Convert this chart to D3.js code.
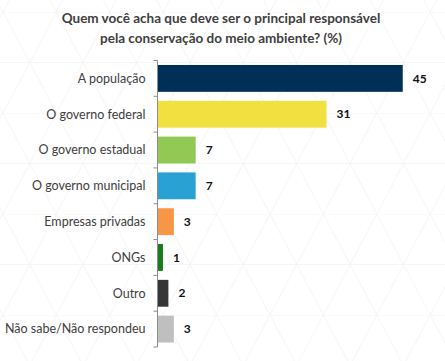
<!DOCTYPE html>
<html>
<head>
<meta charset="utf-8">
<script src="https://cdn.jsdelivr.net/npm/d3@7"></script>
<style>
  body { margin: 0; background: #fff; }
  svg { display: block; font-family: Lato, "Open Sans", sans-serif; }
</style>
</head>
<body>
<div chart></div>
<script>
const categories = [
  "A população",
  "O governo federal",
  "O governo estadual",
  "O governo municipal",
  "Empresas privadas",
  "ONGs",
  "Outro",
  "Não sabe/Não respondeu"
];
const values = [45, 31, 7, 7, 3, 1, 2, 3];
const colors = ["#003057", "#F0E040", "#92C854", "#2AA1D3", "#F79646", "#1B7A1B", "#363636", "#BFBFBF"];

const width = 445;
const height = 361;
const margin = { top: 60.5, right: 15, bottom: 14, left: 157.5 };

const svg = d3.select("[chart]")
  .append("svg")
  .attr("width", width)
  .attr("height", height);

// faint triangle background
const defs = svg.append("defs");
const pat = defs.append("pattern")
  .attr("id", "tri")
  .attr("patternUnits", "userSpaceOnUse")
  .attr("x", 3)
  .attr("y", 12)
  .attr("width", 53.4)
  .attr("height", 101);
pat.append("path")
  .attr("d", "M0,0H53.4M0,50.5H53.4M0,0L26.7,50.5L53.4,0M-26.7,50.5L0,101M26.7,50.5L0,101L-26.7,50.5M26.7,50.5L53.4,101L80.1,50.5M0,0L-26.7,50.5M53.4,0L80.1,50.5")
  .attr("stroke", "#f5f5f5")
  .attr("stroke-width", 1)
  .attr("fill", "none");
svg.append("rect")
  .attr("width", width)
  .attr("height", height)
  .attr("fill", "url(#tri)");

svg.append("text")
  .attr("x", 221)
  .attr("text-anchor", "middle")
  .attr("font-weight", "bold")
  .attr("font-size", 13.5)
  .attr("fill", "#404040")
  .selectAll("tspan")
  .data(["Quem você acha que deve ser o principal responsável", "pela conservação do meio ambiente? (%)"])
  .join("tspan")
  .attr("x", 221)
  .attr("y", (d, i) => 23 + i * 20)
  .text(d => d);

const x = d3.scaleLinear()
  .domain([0, 50])
  .range([margin.left, margin.left + 272.5]);

const y = d3.scaleBand()
  .domain(categories)
  .range([margin.top, height - margin.bottom])
  .paddingInner(0.25)
  .paddingOuter(0.125);

svg.selectAll(".bar")
  .data(values)
  .join("rect")
  .attr("class", "bar")
  .attr("x", x(0))
  .attr("y", (d, i) => y(categories[i]))
  .attr("width", d => x(d) - x(0))
  .attr("height", y.bandwidth())
  .attr("fill", (d, i) => colors[i]);

svg.selectAll(".val")
  .data(values)
  .join("text")
  .attr("class", "val")
  .attr("x", d => x(d) + 10)
  .attr("y", (d, i) => y(categories[i]) + y.bandwidth() / 2)
  .attr("dy", "0.35em")
  .attr("font-size", 12)
  .attr("font-weight", "bold")
  .attr("fill", "#111")
  .text(d => d);

// category axis with ticks between bands
const axis = svg.append("g");
axis.append("line")
  .attr("x1", margin.left).attr("x2", margin.left)
  .attr("y1", margin.top).attr("y2", height - margin.bottom)
  .attr("stroke", "#8c8c8c");
const bounds = d3.range(categories.length + 1).map(i => margin.top + i * y.step());
axis.selectAll(".tick")
  .data(bounds)
  .join("line")
  .attr("x1", margin.left - 4).attr("x2", margin.left)
  .attr("y1", d => d).attr("y2", d => d)
  .attr("stroke", "#8c8c8c");

axis.selectAll(".lbl")
  .data(categories)
  .join("text")
  .attr("class", "lbl")
  .attr("x", margin.left - 12)
  .attr("y", d => y(d) + y.bandwidth() / 2)
  .attr("dy", "0.35em")
  .attr("text-anchor", "end")
  .attr("font-size", 12.5)
  .attr("fill", "#404040")
  .text(d => d);
</script>
</body>
</html>
